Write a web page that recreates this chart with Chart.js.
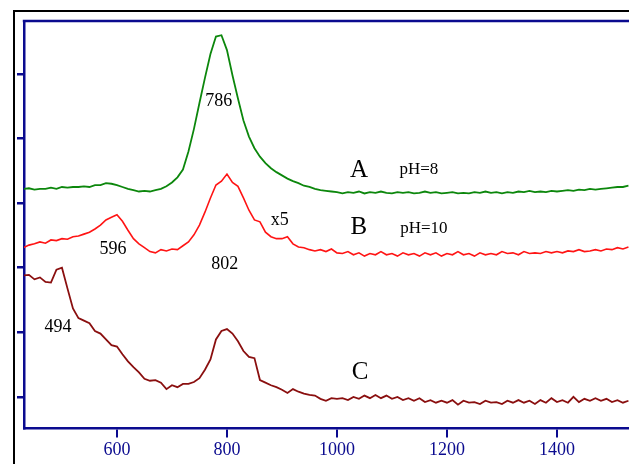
<!DOCTYPE html>
<html>
<head>
<meta charset="utf-8">
<script src="https://cdn.jsdelivr.net/npm/chart.js@4.4.1/dist/chart.umd.min.js"></script>
<style>
  html, body { margin: 0; padding: 0; background: #fff; overflow: hidden; }
  canvas { display: block; }
</style>
</head>
<body>
<canvas id="spectra" width="629" height="464"></canvas>
<script>
// wavenumber grid the three traces were read on
const wavenumber = [
  430, 440, 450, 460, 470, 480, 490, 500, 510, 520,
  530, 540, 550, 560, 570, 580, 590, 600, 610, 620,
  630, 640, 650, 660, 670, 680, 690, 700, 710, 720,
  730, 740, 750, 760, 770, 780, 790, 800, 810, 820,
  830, 840, 850, 860, 870, 880, 890, 900, 910, 920,
  930, 940, 950, 960, 970, 980, 990, 1000, 1010, 1020,
  1030, 1040, 1050, 1060, 1070, 1080, 1090, 1100, 1110, 1120,
  1130, 1140, 1150, 1160, 1170, 1180, 1190, 1200, 1210, 1220,
  1230, 1240, 1250, 1260, 1270, 1280, 1290, 1300, 1310, 1320,
  1330, 1340, 1350, 1360, 1370, 1380, 1390, 1400, 1410, 1420,
  1430, 1440, 1450, 1460, 1470, 1480, 1490, 1500, 1510, 1520, 1530
];

// A  pH=8 (green)
const curveA = [
  3.22, 3.23, 3.21, 3.22, 3.22, 3.24, 3.22, 3.25, 3.24, 3.25,
  3.25, 3.26, 3.25, 3.28, 3.28, 3.31, 3.30, 3.28, 3.25, 3.22,
  3.20, 3.18, 3.19, 3.18, 3.20, 3.22, 3.26, 3.32, 3.40, 3.52,
  3.80, 4.15, 4.55, 4.94, 5.31, 5.58, 5.60, 5.37, 4.98, 4.62,
  4.28, 4.03, 3.85, 3.72, 3.62, 3.54, 3.48, 3.43, 3.38, 3.34,
  3.31, 3.27, 3.25, 3.22, 3.20, 3.19, 3.18, 3.17, 3.15, 3.17,
  3.16, 3.18, 3.15, 3.17, 3.16, 3.18, 3.16, 3.15, 3.17, 3.16,
  3.17, 3.15, 3.16, 3.18, 3.16, 3.17, 3.15, 3.16, 3.17, 3.15,
  3.16, 3.15, 3.17, 3.16, 3.18, 3.16, 3.17, 3.15, 3.17, 3.16,
  3.18, 3.17, 3.19, 3.17, 3.18, 3.17, 3.19, 3.18, 3.19, 3.20,
  3.19, 3.21, 3.20, 3.22, 3.21, 3.22, 3.23, 3.24, 3.25, 3.25, 3.27
];

// B  pH=10, x5 (red)
const curveB = [
  2.31, 2.35, 2.37, 2.40, 2.38, 2.43, 2.42, 2.45, 2.44, 2.48,
  2.49, 2.52, 2.55, 2.60, 2.66, 2.74, 2.78, 2.82, 2.72, 2.58,
  2.45, 2.37, 2.31, 2.25, 2.23, 2.28, 2.26, 2.29, 2.28, 2.34,
  2.40, 2.51, 2.66, 2.86, 3.08, 3.28, 3.34, 3.45, 3.32, 3.26,
  3.08, 2.89, 2.74, 2.71, 2.55, 2.48, 2.45, 2.45, 2.48, 2.37,
  2.32, 2.31, 2.28, 2.26, 2.28, 2.25, 2.29, 2.23, 2.22, 2.25,
  2.20, 2.23, 2.18, 2.22, 2.20, 2.25, 2.20, 2.22, 2.18, 2.23,
  2.20, 2.22, 2.18, 2.23, 2.20, 2.23, 2.18, 2.22, 2.20, 2.25,
  2.20, 2.22, 2.18, 2.23, 2.20, 2.22, 2.20, 2.25, 2.22, 2.23,
  2.20, 2.25, 2.22, 2.23, 2.22, 2.25, 2.23, 2.25, 2.23, 2.26,
  2.25, 2.28, 2.25, 2.26, 2.28, 2.26, 2.29, 2.28, 2.31, 2.29, 2.32
];

// C (maroon)
const curveC = [
  1.88, 1.89, 1.82, 1.85, 1.78, 1.77, 1.97, 2.00, 1.68, 1.37,
  1.22, 1.18, 1.14, 1.02, 0.98, 0.89, 0.80, 0.78, 0.66, 0.55,
  0.46, 0.38, 0.28, 0.25, 0.26, 0.22, 0.12, 0.18, 0.15, 0.20,
  0.20, 0.23, 0.29, 0.42, 0.58, 0.89, 1.02, 1.05, 0.98, 0.86,
  0.71, 0.62, 0.60, 0.26, 0.22, 0.18, 0.15, 0.11, 0.06, 0.12,
  0.08, 0.05, 0.03, 0.02, -0.03, -0.06, -0.02, -0.03, -0.02, -0.05,
  0.00, -0.03, 0.02, -0.02, 0.03, -0.02, 0.02, -0.03, 0.00, -0.05,
  -0.02, -0.06, -0.02, -0.08, -0.05, -0.09, -0.06, -0.09, -0.05, -0.12,
  -0.06, -0.09, -0.08, -0.11, -0.06, -0.09, -0.08, -0.11, -0.06, -0.09,
  -0.05, -0.09, -0.06, -0.11, -0.05, -0.09, -0.02, -0.08, -0.05, -0.09,
  0.00, -0.08, -0.03, -0.06, -0.02, -0.06, -0.03, -0.08, -0.05, -0.09, -0.06
];

const xTicks = [600, 800, 1000, 1200, 1400];
const yTicks = [0, 1, 2, 3, 4, 5];

// text written on the plot, placed in data units
const notes = [
  { text: '786', x: 785, y: 4.58, size: 18 },
  { text: '596', x: 593, y: 2.29, size: 18 },
  { text: '802', x: 796, y: 2.05, size: 18 },
  { text: 'x5', x: 896, y: 2.74, size: 18 },
  { text: '494', x: 493, y: 1.08, size: 18 },
  { text: 'A', x: 1040, y: 3.51, size: 25 },
  { text: 'pH=8', x: 1149, y: 3.52, size: 17 },
  { text: 'B', x: 1040, y: 2.63, size: 25 },
  { text: 'pH=10', x: 1158, y: 2.60, size: 17 },
  { text: 'C', x: 1042, y: 0.38, size: 25 }
];

const NAVY = '#0b0b8f';

function toPoints(ys) {
  return wavenumber.map((w, i) => ({ x: w, y: ys[i] }));
}

// black outer frame + blue top edge of the plot box
const framePlugin = {
  id: 'frame',
  afterDraw(chart) {
    const ctx = chart.ctx;
    const area = chart.chartArea;
    ctx.save();
    ctx.strokeStyle = '#000';
    ctx.lineWidth = 2;
    ctx.beginPath();
    ctx.moveTo(14, chart.height);
    ctx.lineTo(14, 11);
    ctx.lineTo(chart.width, 11);
    ctx.stroke();
    ctx.strokeStyle = NAVY;
    ctx.lineWidth = 2.5;
    ctx.beginPath();
    ctx.moveTo(area.left - 1.2, area.top);
    ctx.lineTo(chart.width, area.top);
    ctx.stroke();
    ctx.restore();
  }
};

const notesPlugin = {
  id: 'notes',
  afterDatasetsDraw(chart) {
    const ctx = chart.ctx;
    const xs = chart.scales.x, ys = chart.scales.y;
    ctx.save();
    ctx.fillStyle = '#000';
    ctx.textAlign = 'center';
    ctx.textBaseline = 'middle';
    notes.forEach(n => {
      ctx.font = n.size + 'px "Liberation Serif", "DejaVu Serif", serif';
      ctx.fillText(n.text, xs.getPixelForValue(n.x), ys.getPixelForValue(n.y));
    });
    ctx.restore();
  }
};

const spectraChart = new Chart(document.getElementById('spectra'), {
  type: 'line',
  data: {
    datasets: [
      { label: 'A', data: toPoints(curveA), borderColor: '#0c870c', borderWidth: 1.8 },
      { label: 'B', data: toPoints(curveB), borderColor: '#ff1414', borderWidth: 1.6 },
      { label: 'C', data: toPoints(curveC), borderColor: '#8a0f0f', borderWidth: 1.8 }
    ]
  },
  options: {
    responsive: false,
    animation: false,
    devicePixelRatio: 1,
    elements: { point: { radius: 0 }, line: { tension: 0, fill: false } },
    layout: { padding: { top: 21, left: 17, right: 0, bottom: 1 } },
    plugins: { legend: { display: false }, tooltip: { enabled: false } },
    scales: {
      x: {
        type: 'linear',
        min: 431,
        max: 1531,
        afterBuildTicks: scale => { scale.ticks = xTicks.map(v => ({ value: v })); },
        grid: { drawOnChartArea: false, drawTicks: true, tickLength: 9, color: NAVY, lineWidth: 2 },
        border: { color: NAVY, width: 2.5 },
        ticks: {
          color: NAVY,
          padding: 2,
          maxRotation: 0,
          callback: v => String(v),
          font: { family: '"Liberation Serif", serif', size: 18 }
        }
      },
      y: {
        type: 'linear',
        min: -0.488,
        max: 5.82,
        afterBuildTicks: scale => { scale.ticks = yTicks.map(v => ({ value: v })); },
        grid: { drawOnChartArea: false, drawTicks: true, tickLength: 7, color: NAVY, lineWidth: 2.5 },
        border: { color: NAVY, width: 2.5 },
        ticks: { display: false }
      }
    }
  },
  plugins: [framePlugin, notesPlugin]
});
</script>
</body>
</html>
